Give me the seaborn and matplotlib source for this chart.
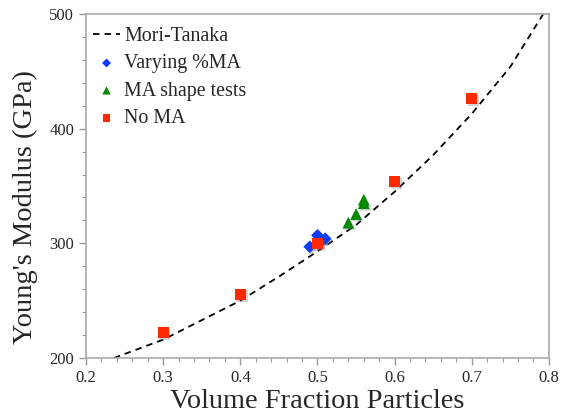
import numpy as np
import pandas as pd
import matplotlib
matplotlib.use("Agg")
import matplotlib.pyplot as plt
import matplotlib.patheffects as pe
import seaborn as sns
from matplotlib.ticker import MultipleLocator

# Data
mt_x = [0.236, 0.25, 0.30, 0.35, 0.40, 0.45, 0.50, 0.55, 0.60, 0.65, 0.70, 0.75, 0.80]
mt_y = [200, 203.5, 216, 233, 250, 271, 293, 316, 345, 377, 413, 454, 508]

ma_x = [0.490, 0.500, 0.510, 0.505, 0.500]
ma_y = [297, 307, 304, 302, 300]

shape_x = [0.540, 0.550, 0.560, 0.560]
shape_y = [318, 325.5, 335, 338]

noma_x = [0.3, 0.4, 0.5, 0.6, 0.7]
noma_y = [222, 255.5, 299.5, 354, 426]

xticks = [0.2, 0.3, 0.4, 0.5, 0.6, 0.7, 0.8]
yticks = [200, 300, 400, 500]

sns.set_style("ticks")
plt.rcParams['font.family'] = ['Liberation Serif', 'DejaVu Serif']

fig = plt.figure(figsize=(5.63, 4.17), dpi=100)
ax = fig.add_axes([0.1528, 0.1415, 0.975 - 0.1528, 0.9664 - 0.1415])

shadow = [pe.SimplePatchShadow(offset=(1.2, -1.2), shadow_rgbFace="#777777", alpha=0.3),
          pe.Normal()]

mt = pd.DataFrame({"x": mt_x, "y": mt_y})
sns.lineplot(data=mt, x="x", y="y", ax=ax, color="black", lw=1.3,
             linestyle=(0, (3.6, 2.8)), label="Mori-Tanaka", sort=True)

ma = pd.DataFrame({"x": ma_x, "y": ma_y})
sns.scatterplot(data=ma, x="x", y="y", ax=ax, marker="D", s=42,
                color="#0A3CFF", edgecolor="none", label="Varying %MA", zorder=3)
sh = pd.DataFrame({"x": shape_x, "y": shape_y})
sns.scatterplot(data=sh, x="x", y="y", ax=ax, marker="^", s=72,
                color="#008A00", edgecolor="none", label="MA shape tests", zorder=3)
nm = pd.DataFrame({"x": noma_x, "y": noma_y})
sns.scatterplot(data=nm, x="x", y="y", ax=ax, marker="s", s=64,
                color="#FF2A00", edgecolor="none", label="No MA", zorder=4)

for coll in ax.collections:
    coll.set_path_effects(shadow)

ax.set_xlim(0.2, 0.8)
ax.set_ylim(200, 500)
ax.set_xticks(xticks)
ax.set_yticks(yticks)
ax.set_xticklabels([f"{v:.1f}" for v in xticks])
ax.set_yticklabels([str(v) for v in yticks])
ax.xaxis.set_minor_locator(MultipleLocator(0.02))
ax.yaxis.set_minor_locator(MultipleLocator(20))
ax.tick_params(axis="both", which="major", direction="out", length=5,
               color="#999999", labelsize=12, width=1)
ax.tick_params(axis="both", which="minor", direction="out", length=3,
               color="#999999", width=0.8)
for sp in ax.spines.values():
    sp.set_visible(True)
    sp.set_color("#aaaaaa")
    sp.set_linewidth(1.2)

ax.set_xlabel("Volume Fraction Particles", fontsize=20.4, labelpad=2)
ax.set_ylabel("Young's Modulus (GPa)", fontsize=20.5, labelpad=8, y=0.4375)

leg = ax.legend(loc="upper left", bbox_to_anchor=(0.0, 0.983), frameon=False,
                fontsize=14.4, handlelength=1.35, handletextpad=0.2,
                labelspacing=0.42, markerscale=0.7, borderaxespad=0.0,
                borderpad=0.35)
for h in leg.legend_handles:
    try:
        h.set_path_effects([])
    except Exception:
        pass

fig.savefig("out.png", dpi=100)
